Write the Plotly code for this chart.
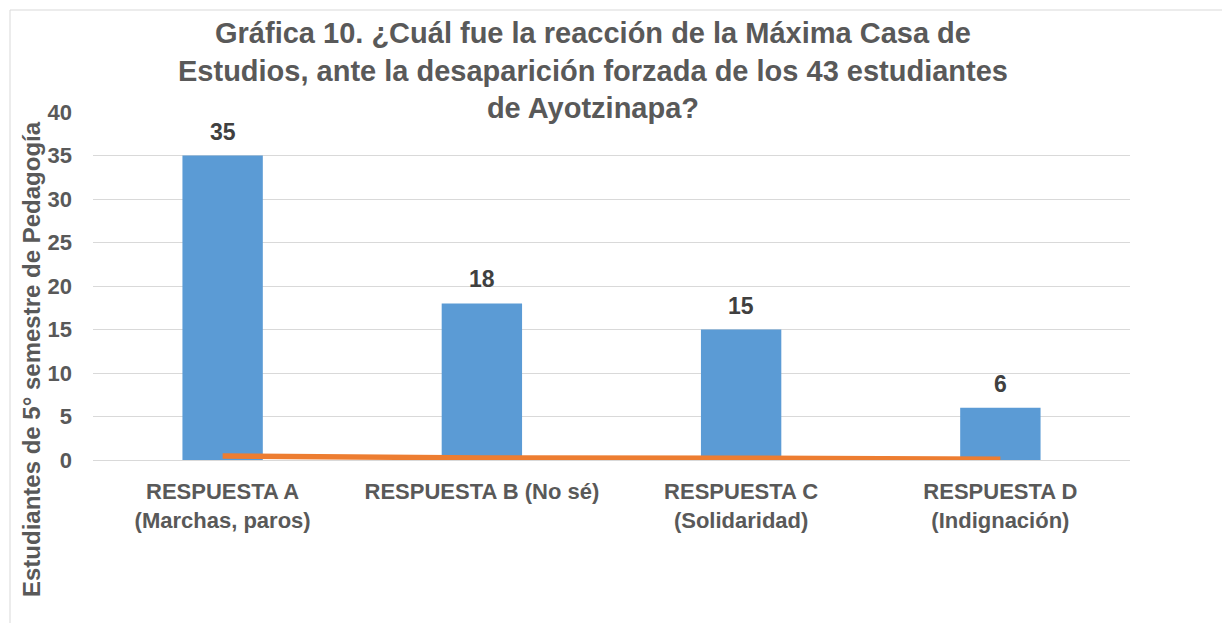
import plotly.graph_objects as go

categories = ["RESPUESTA A<br>(Marchas, paros)", "RESPUESTA B (No sé)", "RESPUESTA C<br>(Solidaridad)", "RESPUESTA D<br>(Indignación)"]
students = [35, 18, 15, 6]
share = [0.47, 0.24, 0.20, 0.08]
y_ticks = [0, 5, 10, 15, 20, 25, 30, 35, 40]
title_lines = [
    "Gráfica 10. ¿Cuál fue la reacción de la Máxima Casa de",
    "Estudios, ante la desaparición forzada de los 43 estudiantes",
    "de Ayotzinapa?",
]
y_title = "Estudiantes de 5° semestre de Pedagogía"

W, H = 1222, 623
L, R, T, B = 93, 92, 112, 163
pw, ph = W - L - R, H - T - B
FONT = "Liberation Sans, Arial"
GREY = "#595959"

def px_x(x):
    return (x - L) / pw

def px_y(y):
    return (H - B - y) / ph

fig = go.Figure()
fig.add_trace(go.Bar(
    x=categories, y=students, marker_color="#5B9BD5", marker_line_width=0,
    showlegend=False,
))
fig.add_trace(go.Scatter(
    x=categories, y=share, mode="lines",
    line=dict(color="#ED7D31", width=5.5), showlegend=False, cliponaxis=False,
))

annotations = []
for c, v in zip(categories, students):
    annotations.append(dict(
        text=f"<b>{v}</b>", x=c, y=v, xref="x", yref="y",
        xanchor="center", yanchor="bottom", yshift=9, showarrow=False,
        font=dict(family=FONT, size=23, color="#404040"),
    ))
annotations.append(dict(
    text="<b>" + "<br>".join(title_lines) + "</b>", xref="paper", yref="paper",
    x=px_x(593), y=px_y(70), xanchor="center", yanchor="middle",
    showarrow=False, font=dict(family=FONT, size=29, color=GREY),
))
annotations.append(dict(
    text=f"<b>{y_title}</b>",
    xref="paper", yref="paper", x=px_x(31), y=px_y(359),
    xanchor="center", yanchor="middle", textangle=-90, showarrow=False,
    font=dict(family=FONT, size=24, color=GREY),
))

fig.update_layout(
    width=W, height=H,
    margin=dict(l=L, r=R, t=T, b=B, autoexpand=False),
    paper_bgcolor="white", plot_bgcolor="white",
    bargap=0.69,
    font=dict(family=FONT, color=GREY),
    xaxis=dict(
        showgrid=False, showline=False, ticks="",
        tickvals=categories, ticktext=[f"<b>{c}</b>" for c in categories],
        tickfont=dict(family=FONT, size=22, color=GREY),
        ticklabelstandoff=16,
    ),
    yaxis=dict(
        range=[0, 40], tickvals=y_ticks,
        ticktext=[f"<b>{v}</b>" for v in y_ticks],
        showgrid=True, gridcolor="#D9D9D9",
        gridwidth=1, zeroline=True, zerolinecolor="#D9D9D9", zerolinewidth=1,
        showline=False, ticks="", ticklabelstandoff=20,
        tickfont=dict(family=FONT, size=22, color=GREY),
    ),
    shapes=[dict(
        type="rect", xref="paper", yref="paper",
        x0=px_x(10), x1=px_x(1300), y0=px_y(700), y1=px_y(10),
        line=dict(color="#D9D9D9", width=1), layer="below",
    )],
    annotations=annotations,
)
fig.write_html("out.html", config={"displayModeBar": False},
               post_script="document.body.style.margin='0';")
